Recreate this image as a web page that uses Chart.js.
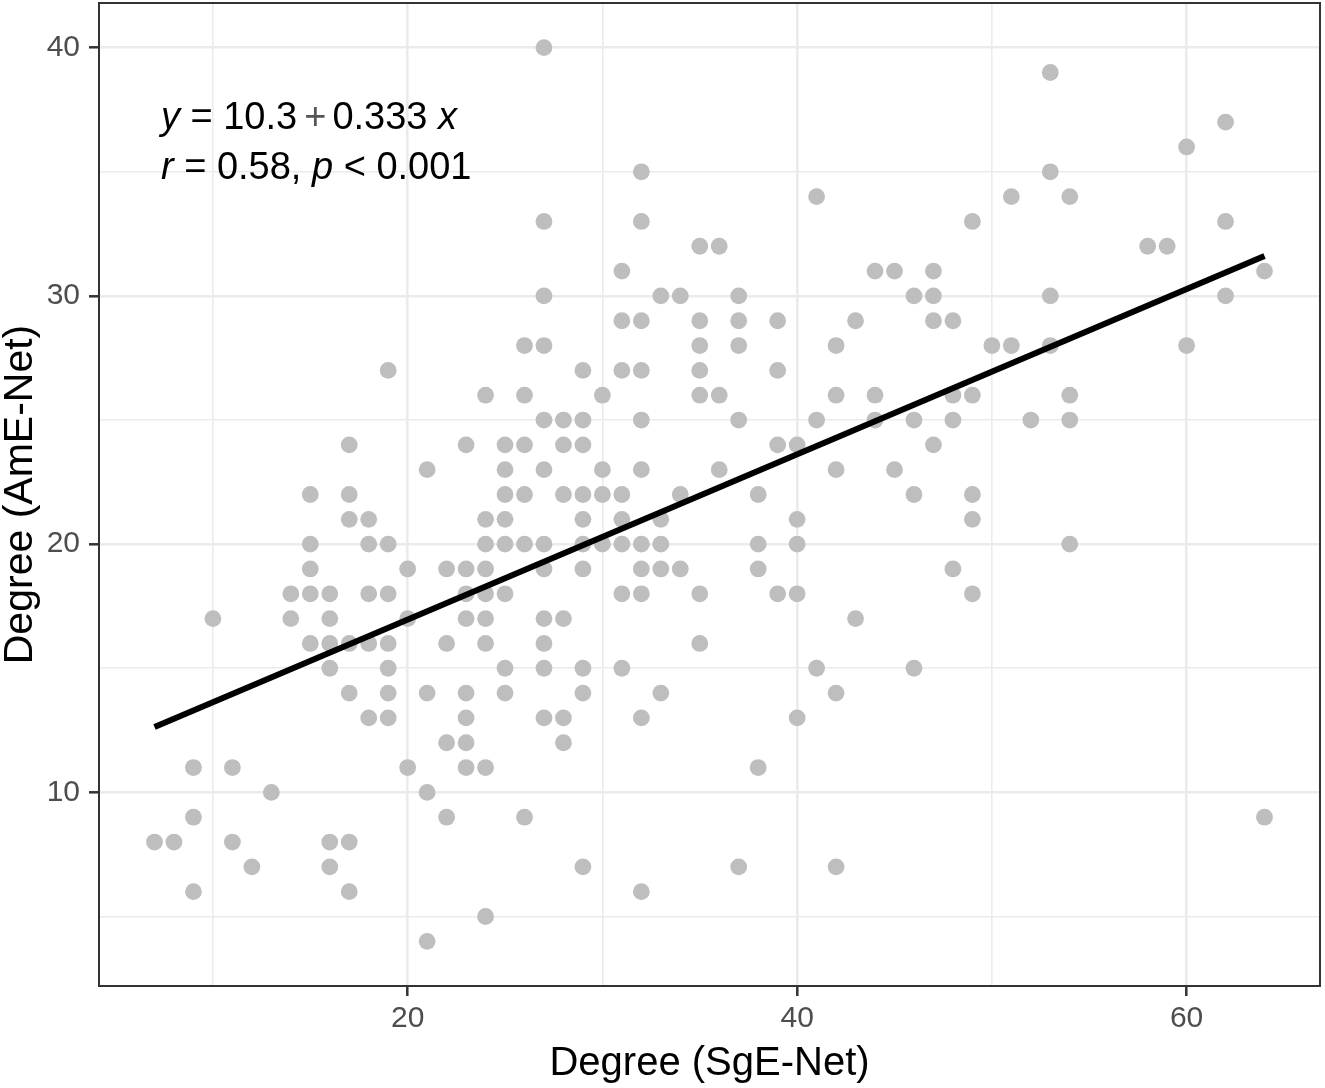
<!DOCTYPE html>
<html>
<head>
<meta charset="utf-8">
<script src="https://cdn.jsdelivr.net/npm/chart.js@4.4.0/dist/chart.umd.min.js"></script>
<style>
html,body{margin:0;padding:0;background:#ffffff;}
#wrap{width:1325px;height:1088px;}
</style>
</head>
<body>
<div id="wrap"><canvas id="c" width="1325" height="1088"></canvas></div>
<script>
// Degree (SgE-Net) for each node
const sgeNet = [
  7, 8,
  9, 9, 9,
  10,
  11, 11,
  12, 13,
  14, 14,
  15, 15, 15, 15, 15,
  16, 16, 16, 16, 16, 16,
  17, 17, 17, 17, 17, 17, 17,
  18, 18, 18, 18, 18,
  19, 19, 19, 19, 19, 19, 19,
  20, 20, 20,
  21, 21, 21, 21,
  22, 22, 22, 22,
  23, 23, 23, 23, 23, 23, 23, 23,
  24, 24, 24, 24, 24, 24, 24, 24, 24,
  25, 25, 25, 25, 25, 25, 25, 25,
  26, 26, 26, 26, 26, 26,
  27, 27, 27, 27, 27, 27, 27, 27, 27, 27, 27, 27,
  28, 28, 28, 28, 28, 28,
  29, 29, 29, 29, 29, 29, 29, 29, 29, 29,
  30, 30, 30, 30,
  31, 31, 31, 31, 31, 31, 31, 31,
  32, 32, 32, 32, 32, 32, 32, 32, 32, 32, 32,
  33, 33, 33, 33, 33,
  34, 34, 34,
  35, 35, 35, 35, 35, 35, 35,
  36, 36, 36,
  37, 37, 37, 37, 37,
  38, 38, 38, 38,
  39, 39, 39, 39,
  40, 40, 40, 40, 40,
  41, 41, 41,
  42, 42, 42, 42, 42,
  43, 43,
  44, 44, 44,
  45, 45,
  46, 46, 46, 46,
  47, 47, 47, 47,
  48, 48, 48, 48,
  49, 49, 49, 49, 49,
  50,
  51, 51,
  52,
  53, 53, 53, 53,
  54, 54, 54, 54,
  58, 59,
  60, 60,
  62, 62, 62,
  64, 64
];
// Degree (AmE-Net) for each node, same order
const ameNet = [
  8, 8,
  11, 9, 6,
  17,
  11, 8,
  7, 10,
  18, 17,
  22, 20, 19, 18, 16,
  18, 17, 16, 15, 8, 7,
  24, 22, 21, 16, 14, 8, 6,
  21, 20, 18, 16, 13,
  27, 20, 18, 16, 15, 14, 13,
  19, 17, 11,
  23, 14, 10, 4,
  19, 16, 12, 9,
  24, 19, 18, 17, 14, 13, 12, 11,
  26, 21, 20, 19, 18, 17, 16, 11, 5,
  24, 23, 22, 21, 20, 18, 15, 14,
  28, 26, 24, 22, 20, 9,
  40, 33, 30, 28, 25, 23, 20, 19, 17, 16, 15, 13,
  25, 24, 22, 17, 13, 12,
  27, 25, 24, 22, 21, 20, 19, 15, 14, 7,
  26, 23, 22, 20,
  31, 29, 27, 22, 21, 20, 18, 15,
  35, 33, 29, 27, 25, 23, 20, 19, 18, 13, 6,
  30, 21, 20, 19, 14,
  30, 22, 19,
  32, 29, 28, 27, 26, 18, 16,
  32, 26, 23,
  30, 29, 28, 25, 7,
  22, 20, 19, 11,
  29, 27, 24, 18,
  24, 21, 20, 18, 13,
  34, 25, 15,
  28, 26, 23, 14, 7,
  29, 17,
  31, 26, 25,
  31, 23,
  30, 25, 22, 15,
  31, 30, 29, 24,
  29, 26, 25, 19,
  33, 26, 22, 21, 18,
  28,
  34, 28,
  25,
  39, 35, 30, 28,
  34, 26, 25, 20,
  32, 32,
  36, 28,
  37, 33, 30,
  31, 9
];
// Fitted regression line end points (y = 10.3 + 0.333 x)
const fitX = [7, 64];
const fitY = [12.63, 31.61];
// Axis ranges and labelled ticks
const xRange = [4.15, 66.85];
const yRange = [2.2, 41.8];
const xMajor = [20, 40, 60];
const yMajor = [10, 20, 30, 40];
// Annotation text
const eqLine1 = [{t:'y', i:true}, {t:' = 10.3', g:7}, {t:'+', c:'#555555', g:6}, {t:'0.333 '}, {t:'x', i:true}];
const eqLine2 = [{t:'r', i:true}, {t:' = 0.58, '}, {t:'p', i:true}, {t:' < 0.001'}];
const eqPos = {x: 7.33, y1: 36.73, y2: 34.72};

const FONT = '"Liberation Sans", Arial, Helvetica, sans-serif';

const points = sgeNet.map((v, k) => ({x: v, y: ameNet[k]}));
const fitPoints = fitX.map((v, k) => ({x: v, y: fitY[k]}));

const frame = {
  id: 'frame',
  afterDatasetsDraw(chart) {
    const {ctx, chartArea: a} = chart;
    ctx.save();
    ctx.strokeStyle = '#333333';
    ctx.lineWidth = 2;
    ctx.strokeRect(a.left, a.top, a.right - a.left, a.bottom - a.top);
    ctx.restore();
  }
};

const annot = {
  id: 'annot',
  afterDraw(chart) {
    const {ctx} = chart;
    const xs = chart.scales.x, ys = chart.scales.y;
    const draw = (segs, yv) => {
      let cx = xs.getPixelForValue(eqPos.x);
      const cy = ys.getPixelForValue(yv);
      ctx.save();
      ctx.textBaseline = 'alphabetic';
      ctx.textAlign = 'left';
      for (const s of segs) {
        ctx.font = (s.i ? 'italic ' : '') + '38px ' + FONT;
        ctx.fillStyle = s.c || '#000000';
        ctx.fillText(s.t, cx, cy);
        cx += ctx.measureText(s.t).width + (s.g || 0);
      }
      ctx.restore();
    };
    draw(eqLine1, eqPos.y1);
    draw(eqLine2, eqPos.y2);
  }
};

new Chart(document.getElementById('c'), {
  type: 'scatter',
  data: {
    datasets: [
      {
        type: 'line',
        data: fitPoints,
        borderColor: '#000000',
        borderWidth: 6,
        borderCapStyle: 'butt',
        pointRadius: 0,
        fill: false,
        order: 0
      },
      {
        data: points,
        backgroundColor: '#BEBEBE',
        borderWidth: 0,
        pointRadius: 8.4,
        order: 1
      }
    ]
  },
  options: {
    responsive: false,
    animation: false,
    devicePixelRatio: 1,
    layout: {autoPadding: false, padding: {top: 3, right: 5, left: 0, bottom: 0}},
    plugins: {legend: {display: false}, tooltip: {enabled: false}},
    scales: {
      x: {
        type: 'linear',
        min: xRange[0], max: xRange[1],
        afterFit(s) { s.height = 102; s.paddingLeft = 0; s.paddingRight = 0; },
        border: {display: false},
        grid: {
          color: '#EBEBEB',
          lineWidth: c => xMajor.includes(c.tick.value) ? 2.6 : 1.6,
          tickColor: c => xMajor.includes(c.tick.value) ? '#333333' : 'rgba(0,0,0,0)',
          tickWidth: 2.5,
          tickLength: 10
        },
        ticks: {
          stepSize: 10,
          includeBounds: false,
          autoSkip: false,
          maxRotation: 0,
          padding: 5,
          color: '#4D4D4D',
          font: {family: FONT, size: 30},
          callback: v => xMajor.includes(v) ? String(v) : ''
        },
        title: {
          display: true,
          text: 'Degree (SgE-Net)',
          color: '#000000',
          font: {family: FONT, size: 40, lineHeight: 1},
          padding: {top: 0, bottom: 4}
        }
      },
      y: {
        type: 'linear',
        min: yRange[0], max: yRange[1],
        afterFit(s) { s.width = 99; s.paddingTop = 0; s.paddingBottom = 0; },
        border: {display: false},
        grid: {
          color: '#EBEBEB',
          lineWidth: c => yMajor.includes(c.tick.value) ? 2.6 : 1.6,
          tickColor: c => yMajor.includes(c.tick.value) ? '#333333' : 'rgba(0,0,0,0)',
          tickWidth: 2.5,
          tickLength: 10
        },
        ticks: {
          stepSize: 5,
          includeBounds: false,
          autoSkip: false,
          padding: 9,
          color: '#4D4D4D',
          font: {family: FONT, size: 30},
          callback: v => yMajor.includes(v) ? String(v) : ''
        },
        title: {
          display: true,
          text: 'Degree (AmE-Net)',
          color: '#000000',
          font: {family: FONT, size: 41, lineHeight: 1},
          padding: {top: 0, bottom: 0}
        }
      }
    }
  },
  plugins: [frame, annot]
});
</script>
</body>
</html>
